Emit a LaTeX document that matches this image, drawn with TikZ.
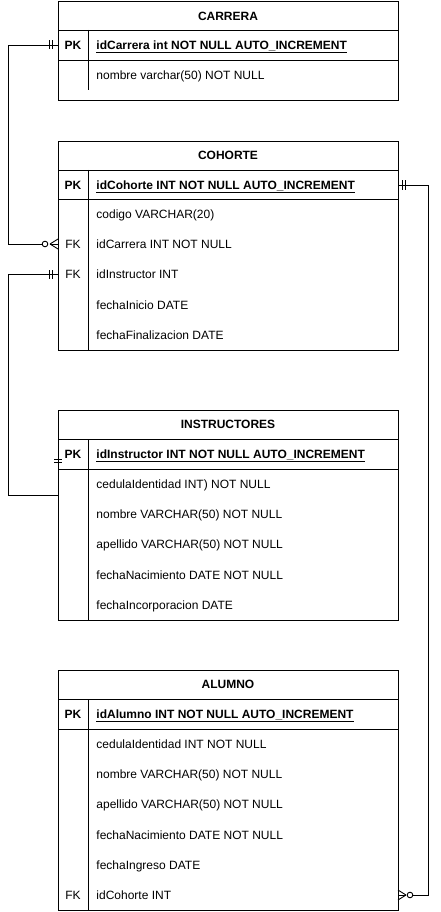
\documentclass[tikz,border=0pt]{standalone}
\usepackage{fontspec}
\setmainfont{Liberation Sans}
\newcommand{\fieldrow}[4]{%
  \node[rowbox] (#1) at (228,#2) {};
  \node[keytext] at (73,#2) {#3};
  \node[fieldtext] at (96,#2) {#4};
}
\newcommand{\pkrow}[3]{%
  \node[rowbox] (#1) at (228,#2) {};
  \node[keytext,font=\fontsize{12}{14}\selectfont\bfseries] at (73,#2) {PK};
  \node[fieldtext,font=\fontsize{12}{14}\selectfont\bfseries] at (96,#2) {\underline{#3}};
}
\begin{document}
\begin{tikzpicture}[x=1pt,y=-1pt,line width=0.9pt,
  rowbox/.style={minimum width=340pt,minimum height=30pt,inner sep=0pt,outer sep=0pt,draw=none},
  keytext/.style={anchor=center,inner sep=0pt,text height=8.6pt,text depth=0pt,font=\fontsize{12}{14}\selectfont},
  fieldtext/.style={anchor=west,inner sep=0pt,text height=8.6pt,text depth=0pt,font=\fontsize{12}{14}\selectfont},
  titletext/.style={anchor=center,inner sep=0pt,text height=8.6pt,text depth=0pt,font=\fontsize{12}{14}\selectfont\bfseries},
  tbl/.style={draw=black,line width=0.9pt},
  conn/.style={draw=black,line width=0.9pt},
  ermark/.style={draw=black,line width=0.9pt}]
\useasboundingbox (0,0) rectangle (440,912);
\fill[white] (0,0) rectangle (440,912);

% ---------- CARRERA
\node[titletext] (carT) at (228,16) {CARRERA};
\pkrow{carPK}{45}{idCarrera int NOT NULL AUTO\_INCREMENT}
\fieldrow{carNom}{75}{}{nombre varchar(50) NOT NULL}
\draw[tbl] (58,1) rectangle (398,100);
\draw[tbl] (58,30) -- (398,30);
\draw[tbl] (58,60) -- (398,60);
\draw[tbl] (88,30) -- (88,90);

% ---------- COHORTE
\node[titletext] (cohT) at (228,155) {COHORTE};
\pkrow{cohPK}{185}{idCohorte INT NOT NULL AUTO\_INCREMENT}
\fieldrow{cohCod}{214}{}{codigo VARCHAR(20)}
\fieldrow{cohCar}{244}{FK}{idCarrera INT NOT NULL}
\fieldrow{cohIns}{274.5}{FK}{idInstructor INT}
\fieldrow{cohIni}{305}{}{fechaInicio DATE}
\fieldrow{cohFin}{335}{}{fechaFinalizacion DATE}
\draw[tbl] (58,141) rectangle (398,350);
\draw[tbl] (58,170) -- (398,170);
\draw[tbl] (58,199.5) -- (398,199.5);
\draw[tbl] (88,170) -- (88,350);

% ---------- INSTRUCTORES
\node[titletext] (insT) at (228,424.5) {INSTRUCTORES};
\pkrow{insPK}{454}{idInstructor INT NOT NULL AUTO\_INCREMENT}
\fieldrow{insCed}{484}{}{cedulaIdentidad INT) NOT NULL}
\fieldrow{insNom}{514}{}{nombre VARCHAR(50) NOT NULL}
\fieldrow{insApe}{544}{}{apellido VARCHAR(50) NOT NULL}
\fieldrow{insNac}{575}{}{fechaNacimiento DATE NOT NULL}
\fieldrow{insInc}{605}{}{fechaIncorporacion DATE}
\draw[tbl] (58,410) rectangle (398,620);
\draw[tbl] (58,439) -- (398,439);
\draw[tbl] (58,469) -- (398,469);
\draw[tbl] (88,439) -- (88,620);

% ---------- ALUMNO
\node[titletext] (aluT) at (228,684.5) {ALUMNO};
\pkrow{aluPK}{714}{idAlumno INT NOT NULL AUTO\_INCREMENT}
\fieldrow{aluCed}{744}{}{cedulaIdentidad INT NOT NULL}
\fieldrow{aluNom}{774}{}{nombre VARCHAR(50) NOT NULL}
\fieldrow{aluApe}{804}{}{apellido VARCHAR(50) NOT NULL}
\fieldrow{aluNac}{835}{}{fechaNacimiento DATE NOT NULL}
\fieldrow{aluIng}{865}{}{fechaIngreso DATE}
\fieldrow{aluCoh}{895}{FK}{idCohorte INT}
\draw[tbl] (58,670) rectangle (398,910);
\draw[tbl] (58,699) -- (398,699);
\draw[tbl] (58,729) -- (398,729);
\draw[tbl] (88,699) -- (88,910);

% ---------- connectors
\coordinate (insEnd) at (58,495);
% CARRERA -> COHORTE
\draw[conn] (carPK.west) -- ++(-50,0) |- ([xshift=-10.5pt]cohCar.west);
\draw[ermark] ([xshift=-6pt]carPK.west) ++(0,-4.5) -- ++(0,9);
\draw[ermark] ([xshift=-9pt]carPK.west) ++(0,-4.5) -- ++(0,9);
\draw[ermark] ([xshift=-8pt]cohCar.west) -- ++(8,-5);
\draw[ermark] ([xshift=-8pt]cohCar.west) -- ++(8,5);
\draw[ermark] ([xshift=-8pt]cohCar.west) -- (cohCar.west);
\draw[ermark,fill=white] ([xshift=-13pt]cohCar.west) circle (2.8);
% COHORTE -> INSTRUCTORES
\draw[conn] (cohIns.west) -- ++(-50,0) |- (insEnd);
\draw[ermark] ([xshift=-6pt]cohIns.west) ++(0,-4.5) -- ++(0,9);
\draw[ermark] ([xshift=-9pt]cohIns.west) ++(0,-4.5) -- ++(0,9);
\draw[ermark] (54,459) -- (62,459);
\draw[ermark] (54,462.5) -- (62,462.5);
% COHORTE -> ALUMNO
\draw[conn] (cohPK.east) -- ++(30,0) |- ([xshift=10.5pt]aluCoh.east);
\draw[ermark] ([xshift=4pt]cohPK.east) ++(0,-4.5) -- ++(0,9);
\draw[ermark] ([xshift=7pt]cohPK.east) ++(0,-4.5) -- ++(0,9);
\draw[ermark] ([xshift=8pt]aluCoh.east) -- ++(-8,-5);
\draw[ermark] ([xshift=8pt]aluCoh.east) -- ++(-8,5);
\draw[ermark] ([xshift=8pt]aluCoh.east) -- (aluCoh.east);
\draw[ermark,fill=white] ([xshift=12pt]aluCoh.east) circle (2.8);
\end{tikzpicture}
\end{document}
